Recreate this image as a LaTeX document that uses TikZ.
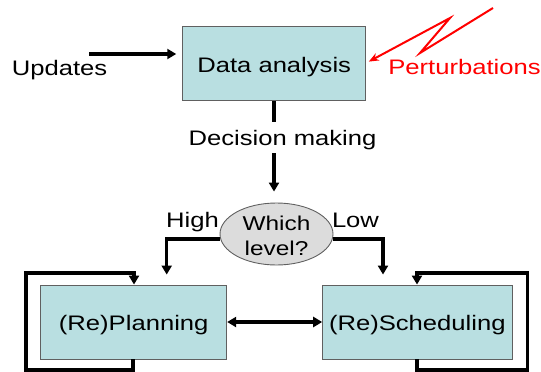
\documentclass[tikz,border=0pt]{standalone}
\usepackage{fontspec}
\setmainfont[FakeStretch=1.22]{Liberation Sans}
\usetikzlibrary{shapes.geometric,arrows.meta}
\definecolor{boxfill}{HTML}{B9DFE1}
\definecolor{ellfill}{HTML}{DCDCDC}
\definecolor{edge}{HTML}{606060}
\begin{document}
\begin{tikzpicture}[x=1pt,y=-1pt,
  box/.style={draw=edge,line width=0.9pt,fill=boxfill,minimum width=#1,minimum height=74pt,inner sep=0pt,text height=17pt,text depth=0pt,font=\fontsize{21}{24}\selectfont},
  lbl/.style={font=\fontsize{21}{24}\selectfont,inner sep=0pt,anchor=base},
  conn/.style={line width=3.4pt,-{Triangle[length=9pt,width=10pt]}},
  conn2/.style={line width=3.4pt,{Triangle[length=9pt,width=10pt]}-{Triangle[length=9pt,width=10pt]}}]
\useasboundingbox (0,0) rectangle (541,372);
\node[box=183pt] (da) at (274.2,63.7) {Data analysis};
\node[box=186pt] (pl) at (133.7,322) {(Re)Planning};
\node[box=189.3pt] (sc) at (417.3,322) {(Re)Scheduling};
\node[ellipse,draw=edge,line width=0.9pt,fill=ellfill,minimum width=113pt,minimum height=62pt,inner sep=0pt] (wl) at (276.5,234) {};
\node[lbl,font=\fontsize{20}{24}\selectfont] (wl1) at (276.5,230) {Which};
\node[lbl,font=\fontsize{20}{24}\selectfont] (wl2) at (276.5,255) {level?};
\node[lbl] (up) at (59.5,75) {Updates};
\node[lbl,text=red] (pe) at (464.5,74) {Perturbations};
\node[lbl] (dm) at (282.5,145) {Decision making};
\node[lbl] (hi) at (192.5,227) {High};
\node[lbl] (lo) at (355.5,227) {Low};
\coordinate (us) at (89,54);
\coordinate (ps) at (493,8);
\coordinate (pz1) at (420,53);
\coordinate (pz2) at (450,18);
\coordinate (dm1) at (274,122);
\coordinate (dm2) at (274,153);
\draw[conn,shorten >=6pt] (us) -- (us -| da.west);
\draw[red,line width=2pt,-{Stealth[length=10pt,width=8pt]},shorten >=3pt] (ps) -- (pz1) -- (pz2) -- (da.east |- 0,63);
\draw[line width=3.4pt] (da.south -| dm1) -- (dm1);
\draw[conn,shorten >=11pt] (dm2) -- (dm2 |- wl.north);
\draw[conn,shorten >=10pt] (wl.west |- 0,239) -- (166.7,239) -- (166.7,0 |- pl.north);
\draw[conn,shorten >=10pt] (wl.east |- 0,239) -- (383,239) -- (383,0 |- sc.north);
\draw[conn2] (pl.east) -- (sc.west);
\draw[conn] (133,359) -- (133,370) -- (26,370) -- (26,273) -- (134,273) -- (134,0 |- pl.north);
\draw[conn] (417,359) -- (417,370) -- (527.7,370) -- (527.7,273) -- (417,273) -- (417,0 |- sc.north);
\end{tikzpicture}
\end{document}
